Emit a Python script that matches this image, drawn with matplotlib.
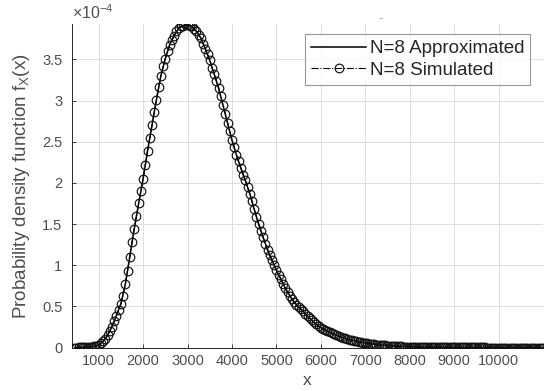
import numpy as np
import matplotlib
matplotlib.use("Agg")
import matplotlib.pyplot as plt
from matplotlib.ticker import FuncFormatter

plt.rcParams['font.family'] = ['Liberation Sans', 'DejaVu Sans']
plt.rcParams['mathtext.fontset'] = 'custom'
plt.rcParams['mathtext.rm'] = 'Liberation Sans'

# ---- data (pdf values in units of 1e-4) ----
approx_x = np.arange(500, 11001, 100)
approx_pdf = [
    0.000, 0.001, 0.003, 0.007, 0.015, 0.032, 0.074, 0.148, 0.255, 0.388,   # 500-1400
    0.530, 0.770, 1.100, 1.440, 1.750, 2.050, 2.390, 2.700, 3.010, 3.300,   # 1500-2400
    3.510, 3.680, 3.790, 3.880, 3.910, 3.920, 3.900, 3.840, 3.760, 3.630,   # 2500-3400
    3.490, 3.320, 3.150, 2.940, 2.730, 2.520, 2.340, 2.180, 2.030, 1.870,   # 3500-4400
    1.680, 1.500, 1.340, 1.190, 1.060, 0.940, 0.830, 0.720, 0.630, 0.550,   # 4500-5400
    0.490, 0.440, 0.380, 0.330, 0.280, 0.240, 0.210, 0.185, 0.160, 0.140,   # 5500-6400
    0.120, 0.100, 0.088, 0.076, 0.065, 0.055, 0.047, 0.040, 0.033, 0.028,   # 6500-7400
    0.023, 0.019, 0.016, 0.013, 0.011, 0.009, 0.007, 0.006, 0.005, 0.004,   # 7500-8400
    0.003, 0.003, 0.003, 0.002, 0.002, 0.002, 0.002, 0.001, 0.001, 0.001,   # 8500-9400
    0.001, 0.001, 0.001, 0.001, 0.000, 0.000, 0.000, 0.000, 0.000, 0.000,   # 9500-10400
    0.000, 0.000, 0.000, 0.000, 0.000, 0.000,                               # 10500-11000
]

sim_x = np.arange(450, 11001, 50)
sim_pdf = [
    0.000, 0.000, 0.001, 0.001, 0.002, 0.003, 0.005, 0.007, 0.010, 0.015,   # 450-900
    0.022, 0.032, 0.050, 0.074, 0.108, 0.148, 0.198, 0.255, 0.318, 0.388,   # 950-1400
    0.460, 0.530, 0.630, 0.770, 0.930, 1.100, 1.280, 1.440, 1.600, 1.750,   # 1450-1900
    1.900, 2.050, 2.220, 2.390, 2.540, 2.700, 2.860, 3.010, 3.160, 3.300,   # 1950-2400
    3.420, 3.510, 3.600, 3.680, 3.740, 3.790, 3.840, 3.880, 3.900, 3.910,   # 2450-2900
    3.930, 3.920, 3.910, 3.900, 3.870, 3.840, 3.800, 3.760, 3.690, 3.630,   # 2950-3400
    3.560, 3.490, 3.400, 3.320, 3.240, 3.150, 3.050, 2.940, 2.840, 2.730,   # 3450-3900
    2.630, 2.520, 2.430, 2.340, 2.260, 2.180, 2.100, 2.030, 1.950, 1.870,   # 3950-4400
    1.780, 1.680, 1.590, 1.500, 1.420, 1.340, 1.260, 1.190, 1.120, 1.060,   # 4450-4900
    1.000, 0.940, 0.885, 0.830, 0.775, 0.720, 0.675, 0.630, 0.590, 0.550,   # 4950-5400
    0.520, 0.490, 0.465, 0.440, 0.410, 0.380, 0.355, 0.330, 0.305, 0.280,   # 5450-5900
    0.260, 0.240, 0.225, 0.210, 0.198, 0.185, 0.172, 0.160, 0.150, 0.140,   # 5950-6400
    0.130, 0.120, 0.110, 0.100, 0.094, 0.088, 0.082, 0.076, 0.070, 0.065,   # 6450-6900
    0.060, 0.055, 0.051, 0.047, 0.043, 0.040, 0.036, 0.033, 0.030, 0.028,   # 6950-7400
    0.025, 0.023, 0.021, 0.019, 0.017, 0.016, 0.014, 0.013, 0.012, 0.011,   # 7450-7900
    0.010, 0.009, 0.008, 0.007, 0.007, 0.006, 0.006, 0.005, 0.005, 0.004,   # 7950-8400
    0.004, 0.003, 0.003, 0.003, 0.003, 0.002, 0.002, 0.002, 0.002, 0.002,   # 8450-8900
    0.002, 0.002, 0.001, 0.001, 0.001, 0.001, 0.001, 0.001, 0.001, 0.001,   # 8950-9400
    0.001, 0.001, 0.001, 0.001, 0.001, 0.001, 0.000, 0.000, 0.000, 0.000,   # 9450-9900
    0.000, 0.000, 0.000, 0.000, 0.000, 0.000, 0.000, 0.000, 0.000, 0.000,   # 9950-10400
    0.000, 0.000, 0.000, 0.000, 0.000, 0.000, 0.000, 0.000, 0.000, 0.000,   # 10450-10900
    0.000, 0.000,                                                           # 10950-11000
]

x_ticks = [1000, 2000, 3000, 4000, 5000, 6000, 7000, 8000, 9000, 10000]
y_ticks = [0, 0.5, 1, 1.5, 2, 2.5, 3, 3.5]
series_labels = ["N=8 Approximated", "N=8 Simulated"]

# ---- figure ----
fig = plt.figure(figsize=(5.5, 3.91), dpi=100)
ax = fig.add_axes([72/550, 1-347.5/391, (543-72)/550, (347.5-24)/391])

n = min(len(approx_x), len(approx_pdf))
ax.plot(approx_x[:n], approx_pdf[:n], '-', color='black', lw=1.1, label=series_labels[0], zorder=3)
m = min(len(sim_x), len(sim_pdf))
ax.plot(sim_x[:m], sim_pdf[:m], '-.', color='black', lw=0.8, marker='o', ms=6.2,
        mfc='none', mec='#111111', mew=0.85, label=series_labels[1], zorder=4)

ax.set_xlim(400, 11000)
ax.set_ylim(0, 3.93)
ax.set_xticks(x_ticks)
ax.set_yticks(y_ticks)
ax.yaxis.set_major_formatter(FuncFormatter(lambda v, p: '%g' % v))

tick_col = '#262626'
ax.tick_params(direction='in', length=3, width=0.6, colors=tick_col, labelsize=10.5,
               labelcolor='#4d4d4d')
ax.tick_params(axis='y', pad=7)
ax.tick_params(axis='x', pad=5)
for s in ['top', 'right']:
    ax.spines[s].set_visible(False)
for s in ['left', 'bottom']:
    ax.spines[s].set_color(tick_col)
    ax.spines[s].set_linewidth(0.7)

ax.grid(True, color='#dedede', lw=0.7)
ax.set_axisbelow(True)

ax.set_xlabel('x', fontsize=12.5, color='#4d4d4d', labelpad=3)
ax.set_ylabel(r'Probability density function f$_\mathregular{X}$(x)', fontsize=13.5,
              color='#4d4d4d', labelpad=7)

ax.text(0.0, 1.005, r'$\times$10$^{\mathregular{-4}}$', transform=ax.transAxes, fontsize=11.5,
        color='#4d4d4d', ha='left', va='bottom')
fig.text(381/550, 1-19/391, '-', fontsize=6, color='#404040', ha='center', va='center')

leg = ax.legend(loc='upper right', bbox_to_anchor=(530/550, 1-34/391),
                bbox_transform=fig.transFigure, fontsize=13.5, frameon=True, fancybox=False,
                borderpad=0.32, handlelength=2.9, handletextpad=0.2, labelspacing=0.25,
                borderaxespad=0)
leg.get_frame().set_edgecolor('#808080')
leg.get_frame().set_linewidth(0.8)
for t in leg.get_texts():
    t.set_color('#262626')

fig.savefig('out.png', dpi=100)
